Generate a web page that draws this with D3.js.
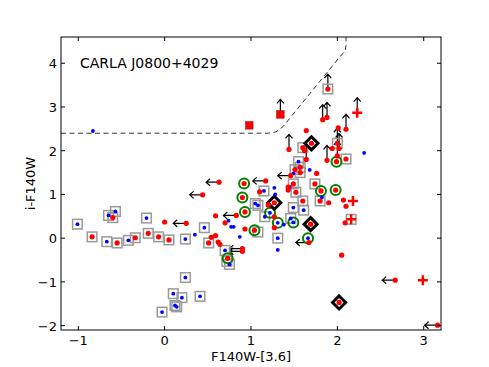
<!DOCTYPE html>
<meta charset="utf-8">
<html>
<head>
<title>CARLA J0800+4029</title>
<style>
body { margin: 0; background: #fff; }
text { font-family: "DejaVu Sans", sans-serif; }
</style>
</head>
<body>
<script src="https://d3js.org/d3.v7.min.js"></script>
<script>

var width = 489,
    height = 367,
    margin = {top: 37, right: 48, bottom: 37, left: 61};

var xTicks = [-1, 0, 1, 2, 3],
    yTicks = [-2, -1, 0, 1, 2, 3, 4];

// red and blue galaxies
var redPts = [
  [-0.84, 0.03], [-0.55, -0.11], [-0.60, 0.47], [-0.34, 0.01], [-0.19, 0.11],
  [-0.07, 0.03], [0.05, -0.04], [0.00, 0.37], [0.25, 0.34], [0.51, -0.11],
  [0.44, 0.99], [0.54, 0.02], [0.59, 0.06], [0.62, -0.09], [0.64, -0.14],
  [0.59, 0.51], [0.70, 0.35], [0.83, 0.52], [0.90, -0.24], [0.90, -0.30],
  [0.73, -0.46], [0.63, 1.28], [0.92, 1.25], [0.90, 0.93], [0.93, 0.60],
  [0.93, 0.21], [1.04, 0.18], [1.17, 1.31], [1.10, 1.06], [1.20, 0.76],
  [1.27, 0.81], [1.27, 0.49], [1.27, 0.24], [1.43, 1.17], [1.46, 1.43],
  [1.44, 2.03], [1.64, 2.46], [1.70, 2.17], [1.60, 2.07], [1.62, 2.00],
  [1.57, 1.62], [1.57, 1.50], [1.51, 1.57], [1.64, 1.80], [1.76, 1.48],
  [1.74, 1.24], [1.52, 1.05], [1.43, 1.10], [1.60, 0.85], [1.81, 1.08],
  [1.98, 1.10], [1.80, 0.85], [1.90, 0.81], [2.07, 0.87], [2.10, 0.73],
  [2.09, 0.35], [2.05, -0.39], [1.67, -0.10], [2.02, -1.47], [2.67, -0.96],
  [3.16, -1.99], [1.69, 0.32], [1.83, 2.71], [1.88, 2.76], [1.89, 3.41],
  [2.10, 2.49], [2.01, 2.52], [1.88, 1.78], [1.99, 1.75], [2.10, 1.81],
  [2.00, 2.17], [2.02, 2.05], [1.94, 2.05], [2.00, 1.88], [1.49, 1.24]
];

var bluePts = [
  [-1.01, 0.32], [-0.67, -0.08], [-0.65, 0.52], [-0.57, 0.61], [-0.42, -0.05],
  [-0.21, 0.46], [0.24, -0.02], [0.46, 0.24], [0.35, 0.08], [0.74, 0.40],
  [0.77, 0.26], [0.80, 0.26], [0.87, 0.03], [0.70, -0.28], [0.75, -0.60],
  [0.24, -0.90], [0.10, -1.27], [0.20, -1.36], [0.41, -1.33], [0.12, -1.54],
  [0.14, -1.57], [-0.03, -1.69], [-0.83, 2.45], [1.27, 1.15], [1.28, 1.00],
  [1.15, 1.08], [1.05, 0.79], [1.08, 0.75], [1.22, 0.58], [1.16, 0.49],
  [1.31, 0.35], [1.46, 0.45], [1.49, 0.36], [1.38, 0.31], [1.31, 0.00],
  [1.31, -0.27], [1.66, 0.00], [1.49, 0.70], [1.61, 0.64], [1.45, 1.17],
  [1.55, 1.75], [1.49, 1.48], [1.68, 1.56], [2.31, 1.95], [1.82, 0.93]
];

var squarePts = [
  [-1.01, 0.32], [-0.84, 0.03], [-0.67, -0.08], [-0.55, -0.11], [-0.65, 0.52],
  [-0.60, 0.47], [-0.57, 0.61], [-0.42, -0.05], [-0.34, 0.01], [-0.21, 0.46],
  [-0.19, 0.11], [-0.07, 0.03], [0.05, -0.04], [0.24, -0.02], [0.46, 0.24],
  [0.51, -0.11], [0.70, -0.28], [0.72, -0.53], [0.75, -0.60], [0.24, -0.90],
  [0.10, -1.27], [0.20, -1.36], [0.41, -1.33], [0.12, -1.54], [0.14, -1.57],
  [-0.03, -1.69], [1.08, 0.14], [1.15, 1.08], [1.05, 0.79], [1.08, 0.75],
  [1.16, 0.49], [1.46, 0.45], [1.31, 0.00], [1.49, 0.70], [1.61, 0.64],
  [1.60, 0.85], [1.80, 0.85], [1.74, 1.24], [1.49, 1.24], [1.52, 1.05],
  [1.55, 1.75], [1.57, 1.62], [1.57, 1.50], [1.51, 1.57], [1.60, 2.07],
  [2.10, 1.81], [2.00, 2.17], [1.89, 3.41], [2.16, 0.43]
];

var circlePts = [
  [0.92, 1.25], [0.90, 0.93], [0.93, 0.60], [0.73, -0.46], [1.04, 0.18],
  [1.22, 0.58], [1.31, 0.35], [1.49, 0.36], [1.66, 0.00], [1.81, 1.08],
  [1.98, 1.10], [1.99, 1.75]
];

var diamondPts = [[1.27, 0.81], [1.70, 2.17], [1.69, 0.32], [2.02, -1.47]];

var redSquarePts = [[0.98, 2.58], [1.34, 2.83]];

var plusPts = [[2.23, 2.87], [2.18, 0.85], [2.16, 0.43], [2.99, -0.96]];

// upper limits in colour (arrow to the left) and lower limits in i-F140W (arrow up)
var leftArrowPts = [
  [0.25, 0.34], [0.44, 0.99], [0.63, 1.28], [0.83, 0.52], [0.90, -0.24],
  [0.90, -0.30], [1.17, 1.31], [1.46, 1.43], [1.67, -0.10], [2.67, -0.96],
  [3.16, -1.99]
];

var upArrowPts = [
  [1.34, 2.83], [1.44, 2.03], [1.64, 1.80], [1.83, 2.71], [1.88, 2.76],
  [1.89, 3.41], [2.10, 2.49], [1.88, 1.78], [2.00, 2.17], [2.02, 2.05],
  [2.00, 1.88], [2.23, 2.87]
];

// selection boundary
var cutX = [-1.2, 1.2, 1.29, 1.37, 2.03, 2.09, 2.1, 2.1];
var cutY = [2.4, 2.4, 2.43, 2.55, 4.15, 4.28, 4.4, 4.6];

var svg = d3.select("body").append("svg")
    .attr("width", width)
    .attr("height", height);

var x = d3.scaleLinear().domain([-1.2, 3.2]).range([margin.left, width - margin.right]);
var y = d3.scaleLinear().domain([-2.1, 4.6]).range([height - margin.bottom, margin.top]);

svg.append("rect")
    .attr("width", width).attr("height", height).attr("fill", "#fff");

// dashed cut
var cut = cutX.map(function(d, i) { return [d, cutY[i]]; });
svg.append("path")
    .datum(cut)
    .attr("fill", "none")
    .attr("stroke", "#333")
    .attr("stroke-width", 1)
    .attr("stroke-dasharray", "5,3.5")
    .attr("d", d3.line().x(function(d) { return x(d[0]); }).y(function(d) { return y(d[1]); }));

// arrows
function leftArrow(d) {
  var px = x(d[0]), py = y(d[1]);
  return "M" + px + "," + py + "H" + (px - 13) +
    "M" + (px - 9) + "," + (py - 3.5) + "L" + (px - 13) + "," + py + "L" + (px - 9) + "," + (py + 3.5);
}
function upArrow(d) {
  var px = x(d[0]), py = y(d[1]);
  return "M" + px + "," + py + "V" + (py - 15) +
    "M" + (px - 3.5) + "," + (py - 11) + "L" + px + "," + (py - 15) + "L" + (px + 3.5) + "," + (py - 11);
}

svg.selectAll(".larrow")
    .data(leftArrowPts)
  .enter().append("path")
    .attr("class", "larrow")
    .attr("fill", "none").attr("stroke", "#000").attr("stroke-width", 1.2)
    .attr("d", leftArrow);

svg.selectAll(".uarrow")
    .data(upArrowPts)
  .enter().append("path")
    .attr("class", "uarrow")
    .attr("fill", "none").attr("stroke", "#000").attr("stroke-width", 1.2)
    .attr("d", upArrow);

// gray open squares
svg.selectAll(".sq")
    .data(squarePts)
  .enter().append("rect")
    .attr("class", "sq")
    .attr("x", function(d) { return x(d[0]) - 4.8; })
    .attr("y", function(d) { return y(d[1]) - 4.8; })
    .attr("width", 9.6).attr("height", 9.6)
    .attr("fill", "none").attr("stroke", "#999").attr("stroke-width", 1.5);

// green circles
svg.selectAll(".gc")
    .data(circlePts)
  .enter().append("circle")
    .attr("class", "gc")
    .attr("cx", function(d) { return x(d[0]); })
    .attr("cy", function(d) { return y(d[1]); })
    .attr("r", 5)
    .attr("fill", "none").attr("stroke", "#008000").attr("stroke-width", 2);

// black diamonds
svg.selectAll(".dm")
    .data(diamondPts)
  .enter().append("path")
    .attr("class", "dm")
    .attr("transform", function(d) { return "translate(" + x(d[0]) + "," + y(d[1]) + ")"; })
    .attr("d", "M0,-6.5L6.5,0L0,6.5L-6.5,0Z")
    .attr("fill", "#fff").attr("stroke", "#000").attr("stroke-width", 3);

// red filled squares
svg.selectAll(".rsq")
    .data(redSquarePts)
  .enter().append("rect")
    .attr("class", "rsq")
    .attr("x", function(d) { return x(d[0]) - 3.8; })
    .attr("y", function(d) { return y(d[1]) - 3.8; })
    .attr("width", 7.6).attr("height", 7.6)
    .attr("fill", "red").attr("stroke", "#900").attr("stroke-width", 0.5);

// red pluses
svg.selectAll(".plus")
    .data(plusPts)
  .enter().append("path")
    .attr("class", "plus")
    .attr("transform", function(d) { return "translate(" + x(d[0]) + "," + y(d[1]) + ")"; })
    .attr("d", "M-5,0H5M0,-5V5")
    .attr("stroke", "red").attr("stroke-width", 2.5);

// dots
svg.selectAll(".blue")
    .data(bluePts)
  .enter().append("circle")
    .attr("class", "blue")
    .attr("cx", function(d) { return x(d[0]); })
    .attr("cy", function(d) { return y(d[1]); })
    .attr("r", 1.9)
    .attr("fill", "blue");

svg.selectAll(".red")
    .data(redPts)
  .enter().append("circle")
    .attr("class", "red")
    .attr("cx", function(d) { return x(d[0]); })
    .attr("cy", function(d) { return y(d[1]); })
    .attr("r", 2.6)
    .attr("fill", "red");

// frame and inward ticks
var x0 = margin.left, x1 = width - margin.right, y0 = margin.top, y1 = height - margin.bottom;
svg.append("rect")
    .attr("x", x0).attr("y", y0).attr("width", x1 - x0).attr("height", y1 - y0)
    .attr("fill", "none").attr("stroke", "#000").attr("stroke-width", 1);

var tk = svg.append("g").attr("stroke", "#000").attr("stroke-width", 1);
xTicks.forEach(function(t) {
  tk.append("line").attr("x1", x(t)).attr("x2", x(t)).attr("y1", y1).attr("y2", y1 - 4);
  tk.append("line").attr("x1", x(t)).attr("x2", x(t)).attr("y1", y0).attr("y2", y0 + 4);
});
yTicks.forEach(function(t) {
  tk.append("line").attr("x1", x0).attr("x2", x0 + 4).attr("y1", y(t)).attr("y2", y(t));
  tk.append("line").attr("x1", x1).attr("x2", x1 - 4).attr("y1", y(t)).attr("y2", y(t));
});

function fmt(t) { return t < 0 ? "\u2212" + Math.abs(t) : String(t); }

svg.selectAll(".xl")
    .data(xTicks)
  .enter().append("text")
    .attr("x", function(d) { return x(d); })
    .attr("y", y1 + 15)
    .attr("text-anchor", "middle")
    .attr("font-size", 13)
    .text(fmt);

svg.selectAll(".yl")
    .data(yTicks)
  .enter().append("text")
    .attr("x", x0 - 4)
    .attr("y", function(d) { return y(d) + 5; })
    .attr("text-anchor", "end")
    .attr("font-size", 13)
    .text(fmt);

svg.append("text")
    .attr("x", (x0 + x1) / 2)
    .attr("y", 361)
    .attr("text-anchor", "middle")
    .attr("font-size", 13)
    .text("F140W-[3.6]");

svg.append("text")
    .attr("transform", "translate(35," + ((y0 + y1) / 2) + ") rotate(-90)")
    .attr("text-anchor", "middle")
    .attr("font-size", 13)
    .text("i-F140W");

svg.append("text")
    .attr("x", 80)
    .attr("y", 68)
    .attr("font-size", 14)
    .text("CARLA J0800+4029");

</script>
</body>
</html>
